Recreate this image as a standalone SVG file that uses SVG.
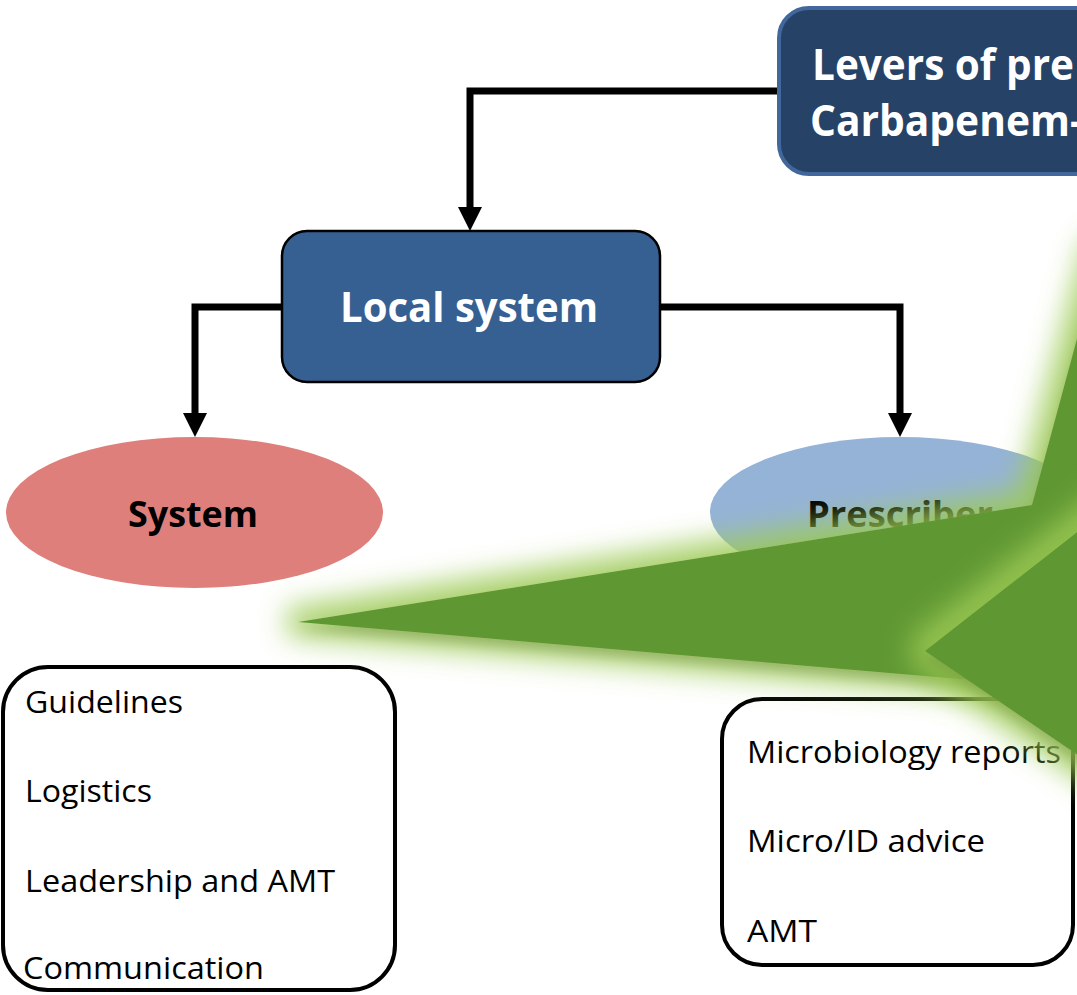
<svg xmlns="http://www.w3.org/2000/svg" width="1077" height="995" viewBox="0 0 1077 995">
<style>
  .title { font-family: "Open Sans", "Liberation Sans", sans-serif; font-weight: bold; fill: #ffffff; }
  .ell { font-family: "Open Sans", "Liberation Sans", sans-serif; font-weight: bold; fill: #000000; font-size: 35px; }
  .item { font-family: "Open Sans", "Liberation Sans", sans-serif; font-size: 31px; fill: #000000; }
  .conn { fill: none; stroke: #000000; stroke-width: 7; stroke-linejoin: miter; }
  .list { fill: #ffffff; stroke: #000000; stroke-width: 4; }
  .star { fill: #5e9732; filter: url(#glow); }
</style>
<defs>
  <marker id="arrow" markerUnits="userSpaceOnUse" markerWidth="24" markerHeight="24" viewBox="0 0 24 24" refX="8" refY="12" orient="auto">
    <path d="M0,0 L24,12 L0,24 z" fill="#000000"/>
  </marker>
  <filter id="glow" filterUnits="userSpaceOnUse" x="-100" y="-100" width="1400" height="1200">
    <feMorphology in="SourceAlpha" operator="dilate" radius="14" result="d"/>
    <feGaussianBlur in="d" stdDeviation="14" result="b"/>
    <feFlood flood-color="#9cca55" flood-opacity="0.85" result="c"/>
    <feComposite in="c" in2="b" operator="in" result="g"/>
    <feGaussianBlur in="SourceAlpha" stdDeviation="6" result="sb"/>
    <feOffset in="sb" dx="0" dy="8" result="so"/>
    <feFlood flood-color="#3d4a22" flood-opacity="0.3" result="sc"/>
    <feComposite in="sc" in2="so" operator="in" result="s"/>
    <feMerge>
      <feMergeNode in="g"/>
      <feMergeNode in="s"/>
      <feMergeNode in="SourceGraphic"/>
    </feMerge>
  </filter>
</defs>
<rect x="0" y="0" width="1077" height="995" fill="#ffffff"/>

<g id="connectors">
  <path class="conn" d="M779,91 H470 V215" marker-end="url(#arrow)"/>
  <path class="conn" d="M282,307 H195 V421" marker-end="url(#arrow)"/>
  <path class="conn" d="M660,307 H900 V421" marker-end="url(#arrow)"/>
</g>

<g id="node-levers">
  <rect x="779" y="8" width="400" height="166" rx="30" ry="30" fill="#264266" stroke="#41679c" stroke-width="4"/>
  <text class="title" x="812" y="80" font-size="43" textLength="262" lengthAdjust="spacingAndGlyphs">Levers of pre</text>
  <text class="title" x="810" y="136" font-size="43" textLength="273" lengthAdjust="spacingAndGlyphs">Carbapenem-</text>
</g>

<g id="node-local-system">
  <rect x="282" y="231" width="378" height="151" rx="25" ry="25" fill="#376092" stroke="#000000" stroke-width="2.5"/>
  <text class="title" x="340" y="322" font-size="41" textLength="258" lengthAdjust="spacingAndGlyphs">Local system</text>
</g>

<g id="node-system">
  <ellipse cx="194.5" cy="512.5" rx="188.5" ry="75.5" fill="#df7f7c"/>
  <text class="ell" x="128" y="527" textLength="130" lengthAdjust="spacingAndGlyphs">System</text>
</g>

<g id="node-prescriber">
  <ellipse cx="900" cy="512" rx="190" ry="75" fill="#95b3d7"/>
  <text class="ell" x="807" y="527" textLength="186" lengthAdjust="spacingAndGlyphs">Prescriber</text>
</g>

<g id="node-system-list">
  <rect class="list" x="3" y="667" width="392" height="323" rx="45" ry="45"/>
  <text class="item" x="25" y="713" textLength="158" lengthAdjust="spacingAndGlyphs">Guidelines</text>
  <text class="item" x="25" y="802" textLength="127" lengthAdjust="spacingAndGlyphs">Logistics</text>
  <text class="item" x="25" y="892" textLength="310" lengthAdjust="spacingAndGlyphs">Leadership and AMT</text>
  <text class="item" x="23" y="979" textLength="241" lengthAdjust="spacingAndGlyphs">Communication</text>
</g>

<g id="node-prescriber-list">
  <rect class="list" x="722" y="699" width="351" height="266" rx="40" ry="40"/>
  <text class="item" x="747" y="763" textLength="314" lengthAdjust="spacingAndGlyphs">Microbiology reports</text>
  <text class="item" x="747" y="852" textLength="238" lengthAdjust="spacingAndGlyphs">Micro/ID advice</text>
  <text class="item" x="747" y="942" textLength="70" lengthAdjust="spacingAndGlyphs">AMT</text>
</g>

<g id="star">
  <polygon class="star" points="298,622 1032,505 1101,250 1250,250 1250,704"/>
  <polygon class="star" points="925,651 1250,397 1250,872"/>
</g>
</svg>
